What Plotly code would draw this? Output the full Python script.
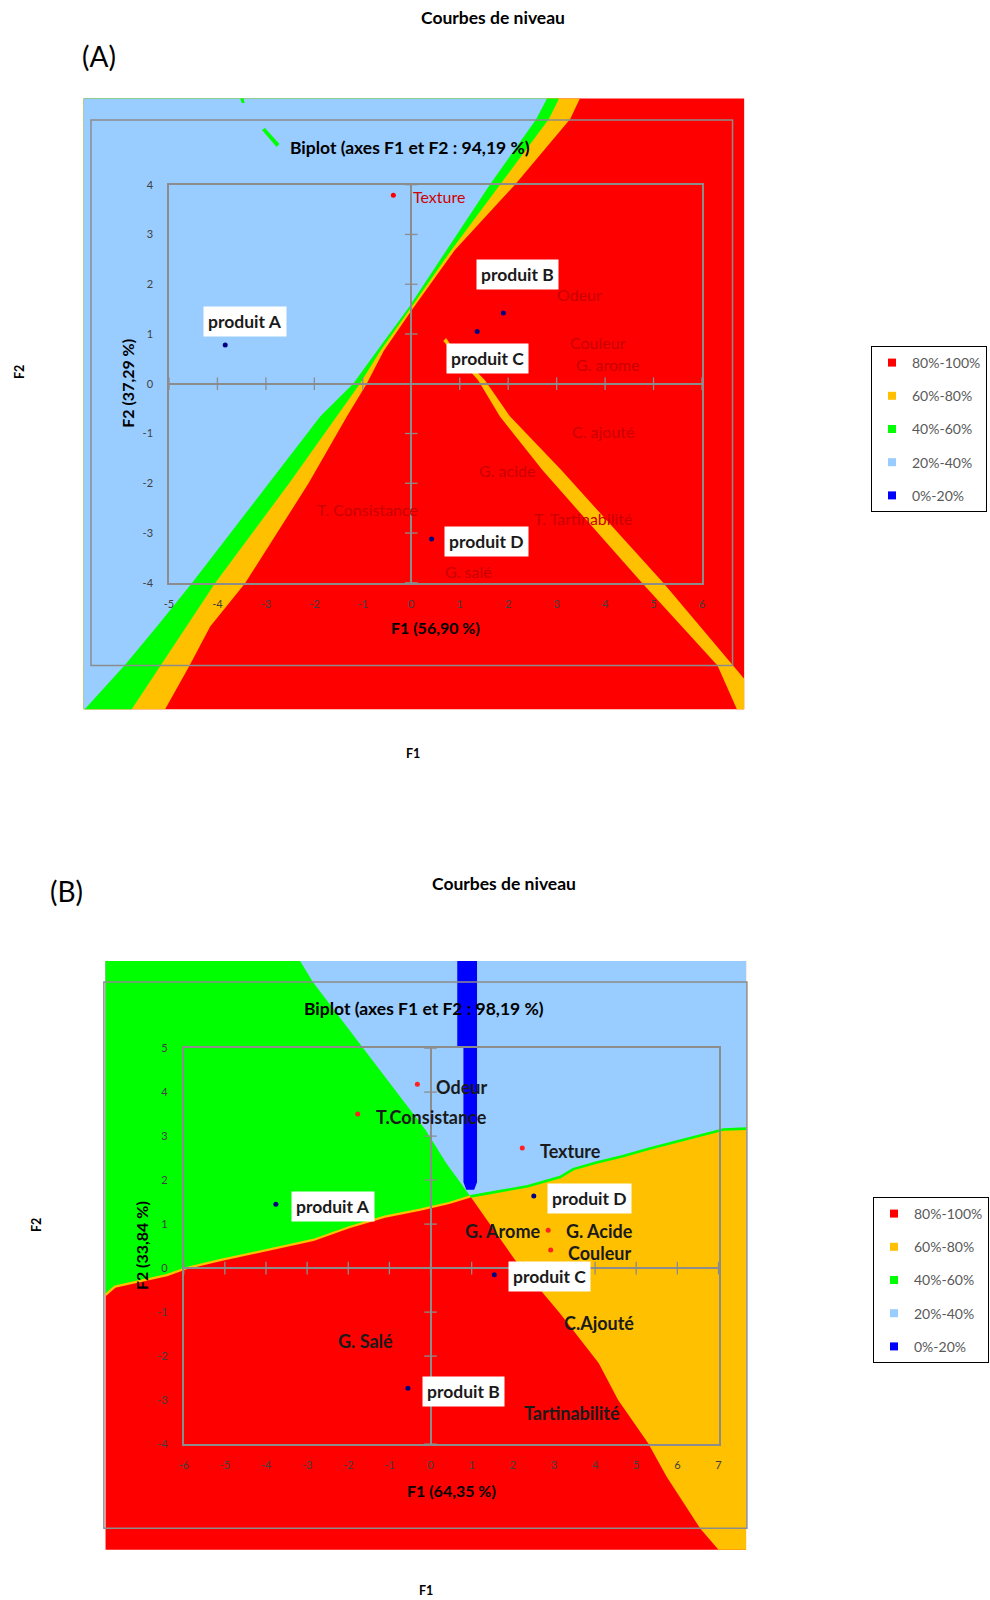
import plotly.graph_objects as go

# ---------------- colour classes (shared legend) ----------------
class_labels = ["80%-100%", "60%-80%", "40%-60%", "20%-40%", "0%-20%"]
class_colors = ["#FF0000", "#FFC000", "#00FF00", "#99CCFF", "#0000FF"]
RED, YELLOW, GREEN, LBLUE, BLUE = class_colors

# ---------------- (A) contour map ----------------
a_grid_x = [-6.76, 6.87]          # extent of the contour grid (F1)
a_grid_y = [-6.54, 5.73]          # extent of the contour grid (F2)
a_bound_y = [5.73, 5.32, 4.0, 2.69, 1.52, 0.66, 0.0, -0.66, -2.0, -4.01, -4.88, -5.65, -6.54]
a_bound_blue_green = [2.80, 2.58, 1.62, 0.73, -0.06, -0.71, -1.20, -1.88, -2.94, -4.53, -5.25, -5.91, -6.74]
a_bound_green_yellow = [3.05, 2.84, 1.83, 0.83, -0.01, -0.64, -1.06, -1.54, -2.52, -4.05, -4.64, -5.15, -5.77]
a_bound_yellow_red = [3.48, 3.28, 2.14, 0.90, 0.04, -0.57, -0.92, -1.33, -2.12, -3.43, -4.15, -4.57, -5.08]
# 60-80 % ridge running to the lower right corner
a_band_x = [0.72, 0.66, 1.38, 1.83, 2.71, 4.76, 6.32, 6.72, 6.87, 6.87, 6.64, 5.20, 3.10, 2.04, 1.52, 0.80]
a_band_y = [0.92, 0.86, 0.07, -0.66, -1.74, -4.00, -5.66, -6.54, -6.54, -5.93, -5.66, -4.00, -1.74, -0.66, 0.07, 0.80]
# small 40-60 % islands in the upper left
a_isle_x = [-3.08, -3.02, -2.72, -2.78]
a_isle_y = [5.10, 5.14, 4.82, 4.76]
a_fleck_x = [-3.53, -3.46, -3.44, -3.50]
a_fleck_y = [5.73, 5.73, 5.64, 5.64]
a_frame = [-6.61, 6.63, -5.66, 5.30]   # chart-area border (x0, x1, y0, y1)

a_xticks = [-5, -4, -3, -2, -1, 0, 1, 2, 3, 4, 5, 6]
a_yticks = [-4, -3, -2, -1, 0, 1, 2, 3, 4]

a_obs_names = ["produit A", "produit B", "produit C", "produit D"]
a_obs_x = [-3.84, 1.90, 1.36, 0.42]
a_obs_y = [0.78, 1.42, 1.05, -3.12]
a_obs_lab_x = [-3.44, 2.20, 1.58, 1.55]
a_obs_lab_y = [1.26, 2.19, 0.50, -3.17]

a_var_dot_x = [-0.37]
a_var_dot_y = [3.79]
a_var_names = ["Texture", "Odeur", "Couleur", "G. arome", "C. ajouté", "G. acide",
               "T. Consistance", "T. Tartinabilité", "G. salé"]
a_var_lab_x = [0.57, 3.48, 3.85, 4.07, 3.97, 1.97, -0.90, 3.55, 1.18]
a_var_lab_y = [3.76, 1.79, 0.82, 0.38, -0.95, -1.75, -2.52, -2.71, -3.77]

# ---------------- (B) contour map ----------------
b_grid_x = [-7.90, 7.67]
b_grid_y = [-6.40, 6.98]
# green / red border, left edge to the junction
b_gr_x = [-7.90, -7.67, -6.41, -5.93, -5.12, -4.10, -2.85, -1.98, -1.11, -0.25, 0.45, 0.97]
b_gr_y = [-0.61, -0.42, -0.16, 0.00, 0.18, 0.38, 0.64, 0.93, 1.17, 1.33, 1.48, 1.63]
# light blue / yellow border, junction to right edge
b_ly_x = [0.97, 1.49, 2.36, 3.15, 3.47, 4.04, 4.69, 5.33, 5.98, 6.63, 7.12, 7.67]
b_ly_y = [1.63, 1.72, 1.86, 2.07, 2.25, 2.40, 2.55, 2.72, 2.87, 3.02, 3.15, 3.17]
# green / light blue border, top edge to the junction
b_gb_x = [-3.17, -2.86, -1.65, -0.70, -0.12, 0.38, 0.79, 0.97]
b_gb_y = [6.98, 6.50, 5.00, 3.85, 3.14, 2.39, 1.86, 1.63]
# red / yellow border, junction to bottom edge
b_ry_x = [0.97, 1.53, 2.05, 3.14, 4.09, 4.56, 5.29, 5.74, 6.55, 7.00]
b_ry_y = [1.63, 0.87, 0.19, -1.02, -2.16, -3.00, -3.98, -4.74, -5.91, -6.40]
# 0-20 % trough
b_trough_x = [0.65, 1.13, 1.13, 1.06, 0.87, 0.80, 0.80, 0.65]
b_trough_y = [6.98, 6.98, 1.95, 1.78, 1.78, 1.95, 5.00, 5.00]
b_frame = [-7.94, 7.69, -5.91, 6.50]

b_xticks = [-6, -5, -4, -3, -2, -1, 0, 1, 2, 3, 4, 5, 6, 7]
b_yticks = [-4, -3, -2, -1, 0, 1, 2, 3, 4, 5]

b_obs_names = ["produit A", "produit B", "produit C", "produit D"]
b_obs_x = [-3.76, -0.55, 1.55, 2.51]
b_obs_y = [1.45, -2.73, -0.15, 1.64]
b_obs_lab_x = [-2.37, 0.79, 2.90, 3.86]
b_obs_lab_y = [1.39, -2.80, -0.20, 1.59]

b_var_dot_x = [-0.32, -1.77, 2.23, 2.86, 2.92]
b_var_dot_y = [4.18, 3.50, 2.73, 0.86, 0.41]
b_var_names = ["Odeur", "T.Consistance", "Texture", "G. Arome", "G. Acide", "Couleur",
               "C.Ajouté", "G. Salé", "Tartinabilité"]
b_var_lab_x = [0.75, 0.02, 3.40, 1.75, 4.11, 4.11, 4.10, -1.57, 3.43]
b_var_lab_y = [4.11, 3.43, 2.67, 0.85, 0.85, 0.34, -1.25, -1.65, -3.30]

# ---------------- page geometry (pixels) ----------------
W, H = 990, 1600
FONT = "Lato"
GRAY = "#8C8C8C"
TICKC = "#404040"


def dom_x(p0, p1):
    return [p0 / W, p1 / W]


def dom_y(p0, p1):
    return [1 - p1 / H, 1 - p0 / H]


def bg_range(inner_px, inner_rng, outer_px):
    """Extend the biplot scale so a larger box shares the same units."""
    (ix0, iy0, ix1, iy1) = inner_px
    (xr0, xr1, yr0, yr1) = inner_rng
    (ox0, oy0, ox1, oy1) = outer_px
    sx = (ix1 - ix0) / (xr1 - xr0)
    sy = (iy1 - iy0) / (yr1 - yr0)
    return ([xr0 - (ix0 - ox0) / sx, xr1 + (ox1 - ix1) / sx],
            [yr0 - (oy1 - iy1) / sy, yr1 + (iy0 - oy0) / sy])


panels = {
    "A": dict(inner_px=(169, 184.7, 702, 582.8), rng=(-5, 6, -4, 4), outer_px=(78, 93, 752, 717)),
    "B": dict(inner_px=(183.7, 1048.1, 718.5, 1444.1), rng=(-6, 7, -4, 5), outer_px=(98, 952, 754, 1557)),
}

fig = go.Figure()


def poly(x, y, color, xa, ya):
    fig.add_trace(go.Scatter(x=x, y=y, mode="lines", fill="toself", fillcolor=color,
                             line=dict(width=0, color=color), hoverinfo="skip",
                             showlegend=False, xaxis=xa, yaxis=ya))


def edge(x, y, color, width, xa, ya):
    fig.add_trace(go.Scatter(x=x, y=y, mode="lines", line=dict(width=width, color=color),
                             hoverinfo="skip", showlegend=False, xaxis=xa, yaxis=ya))


# ----- (A) regions on x / y -----
X0, X1 = a_grid_x
Y0, Y1 = a_grid_y
poly([X0, X1, X1, X0], [Y0, Y0, Y1, Y1], RED, "x", "y")
poly([X0] + a_bound_yellow_red + [X0], [Y1] + a_bound_y + [Y0], YELLOW, "x", "y")
poly([X0] + a_bound_green_yellow + [X0], [Y1] + a_bound_y + [Y0], GREEN, "x", "y")
poly([X0] + a_bound_blue_green + [X0], [Y1] + a_bound_y + [Y0], LBLUE, "x", "y")
poly(a_band_x, a_band_y, YELLOW, "x", "y")
poly(a_isle_x, a_isle_y, GREEN, "x", "y")
poly(a_fleck_x, a_fleck_y, GREEN, "x", "y")

# ----- (B) regions on x3 / y3 -----
X0, X1 = b_grid_x
Y0, Y1 = b_grid_y
poly([X0, X1, X1, X0], [Y0, Y0, Y1, Y1], RED, "x3", "y3")
poly(b_ry_x + [X1, X1, b_ry_x[0]], b_ry_y + [Y0, Y1, Y1], YELLOW, "x3", "y3")
poly(b_gr_x + b_ly_x[1:] + [X1, X0], b_gr_y + b_ly_y[1:] + [Y1, Y1], LBLUE, "x3", "y3")
poly([X0] + b_gb_x + b_gr_x[::-1], [Y1] + b_gb_y + b_gr_y[::-1], GREEN, "x3", "y3")
poly(b_trough_x, b_trough_y, BLUE, "x3", "y3")
edge(b_gr_x, b_gr_y, YELLOW, 2.2, "x3", "y3")
edge(b_ly_x, b_ly_y, GREEN, 2.6, "x3", "y3")


# ----- biplot overlays -----
def biplot(xa, ya, xticks, yticks, obs_x, obs_y, dot_x, dot_y, dot_color):
    fig.add_trace(go.Scatter(x=xticks, y=[0] * len(xticks), mode="markers",
                             marker=dict(symbol="line-ns", size=9, line=dict(width=1.3, color=GRAY)),
                             hoverinfo="skip", showlegend=False, xaxis=xa, yaxis=ya, cliponaxis=False))
    fig.add_trace(go.Scatter(x=[0] * len(yticks), y=yticks, mode="markers",
                             marker=dict(symbol="line-ew", size=9, line=dict(width=1.3, color=GRAY)),
                             hoverinfo="skip", showlegend=False, xaxis=xa, yaxis=ya, cliponaxis=False))
    fig.add_trace(go.Scatter(x=obs_x, y=obs_y, mode="markers",
                             marker=dict(size=5, color="#000080"),
                             showlegend=False, xaxis=xa, yaxis=ya))
    fig.add_trace(go.Scatter(x=dot_x, y=dot_y, mode="markers",
                             marker=dict(size=5, color=dot_color),
                             showlegend=False, xaxis=xa, yaxis=ya))


biplot("x2", "y2", a_xticks, a_yticks, a_obs_x, a_obs_y, a_var_dot_x, a_var_dot_y, "#FF0000")
biplot("x4", "y4", b_xticks, b_yticks, b_obs_x, b_obs_y, b_var_dot_x, b_var_dot_y, "#FF2020")

# ----- legends -----
for lg in ("legend", "legend2"):
    for name, col in zip(class_labels, class_colors):
        fig.add_trace(go.Scatter(x=[None], y=[None], mode="markers", name=name,
                                 marker=dict(symbol="square", size=8, color=col),
                                 legend=lg, legendgroup=lg + name, showlegend=True))


# ----- axes -----
def axis_common(**kw):
    d = dict(showgrid=False, zeroline=False, showticklabels=False, showline=False,
             fixedrange=True, ticks="", automargin=False)
    d.update(kw)
    return d


def tick_text(vals):
    return [str(v) for v in vals]


layout_axes = {}
for key, (bx, by, ix, iy) in {"A": ("xaxis", "yaxis", "xaxis2", "yaxis2"),
                              "B": ("xaxis3", "yaxis3", "xaxis4", "yaxis4")}.items():
    p = panels[key]
    ipx, rng, opx = p["inner_px"], p["rng"], p["outer_px"]
    xr, yr = bg_range(ipx, rng, opx)
    bxa = bx.replace("axis", "")
    bya = by.replace("axis", "")
    layout_axes[bx] = axis_common(domain=dom_x(opx[0], opx[2]), range=xr, anchor=bya)
    layout_axes[by] = axis_common(domain=dom_y(opx[1], opx[3]), range=yr, anchor=bxa)
    ixa = ix.replace("axis", "")
    iya = iy.replace("axis", "")
    xticks = a_xticks if key == "A" else b_xticks
    yticks = a_yticks if key == "A" else b_yticks
    layout_axes[ix] = dict(domain=dom_x(ipx[0], ipx[2]), range=[rng[0], rng[1]], anchor=iya,
                           showgrid=False, zeroline=True, zerolinecolor=GRAY, zerolinewidth=1.5,
                           showline=True, mirror=True, linecolor=GRAY, linewidth=1.5,
                           tickvals=xticks, ticktext=tick_text(xticks), ticks="",
                           ticklabelstandoff=10, automargin=False,
                           tickfont=dict(family=FONT, size=11, color=TICKC), fixedrange=True)
    layout_axes[iy] = dict(domain=dom_y(ipx[1], ipx[3]), range=[rng[2], rng[3]], anchor=ixa,
                           showgrid=False, zeroline=True, zerolinecolor=GRAY, zerolinewidth=1.5,
                           showline=True, mirror=True, linecolor=GRAY, linewidth=1.5,
                           tickvals=yticks, ticktext=tick_text(yticks), ticks="",
                           ticklabelstandoff=12, automargin=False,
                           tickfont=dict(family=FONT, size=11, color=TICKC), fixedrange=True)

# ----- chart-area borders -----
shapes = []
for (xr_, yr_, fr) in (("x", "y", a_frame), ("x3", "y3", b_frame)):
    shapes.append(dict(type="rect", xref=xr_, yref=yr_, x0=fr[0], x1=fr[1], y0=fr[2], y1=fr[3],
                       line=dict(color=GRAY, width=1.5), fillcolor="rgba(0,0,0,0)", layer="above"))

# ----- text -----
ann = []


def text(t, x, y, xref, yref, size, bold=False, color="#000000", angle=0, **kw):
    ann.append(dict(text=("<b>%s</b>" % t) if bold else t, x=x, y=y, xref=xref, yref=yref,
                    xanchor="center", yanchor="middle",
                    showarrow=False, textangle=angle,
                    font=dict(family=FONT, size=size, color=color), **kw))


def px_x(p):
    return p / W


def px_y(p):
    return 1 - p / H


# headings and axis names
text("Courbes de niveau", px_x(493), px_y(18), "paper", "paper", 17.5, bold=True)
text("(A)", px_x(99), px_y(56), "paper", "paper", 28)
text("F2", px_x(19), px_y(372), "paper", "paper", 12.5, bold=True, angle=-90)
text("F1", px_x(413), px_y(753), "paper", "paper", 12.5, bold=True)
text("Biplot (axes F1 et F2 : 94,19 %)", px_x(410), px_y(147), "paper", "paper", 17.5, bold=True)
text("F2 (37,29 %)", px_x(128), 0.5, "paper", "y2 domain", 16, bold=True, angle=-90)
text("F1 (56,90 %)", 0.5, px_y(627), "x2 domain", "paper", 16, bold=True)

text("Courbes de niveau", px_x(504), px_y(883), "paper", "paper", 17.5, bold=True)
text("(B)", px_x(66), px_y(891), "paper", "paper", 28)
text("F2", px_x(36), px_y(1225), "paper", "paper", 12.5, bold=True, angle=-90)
text("F1", px_x(426), px_y(1590), "paper", "paper", 12.5, bold=True)
text("Biplot (axes F1 et F2 : 98,19 %)", px_x(424), px_y(1008), "paper", "paper", 17.5, bold=True)
text("F2 (33,84 %)", px_x(141), 0.5, "paper", "y4 domain", 16, bold=True, angle=-90)
text("F1 (64,35 %)", 0.5, px_y(1490), "x4 domain", "paper", 16, bold=True)

# (A) labels
for i, name in enumerate(a_var_names):
    col = "#D00000" if i == 0 else "#C80000"
    text(name, a_var_lab_x[i], a_var_lab_y[i], "x2", "y2", 16, color=col)
for name, lx, ly in zip(a_obs_names, a_obs_lab_x, a_obs_lab_y):
    text(name, lx, ly, "x2", "y2", 17.5, bold=True, color="#1A1A1A", bgcolor="#FFFFFF", borderpad=4)

# (B) labels
for name, lx, ly in zip(b_var_names, b_var_lab_x, b_var_lab_y):
    text(name, lx, ly, "x4", "y4", 18, bold=True, color="#1A1A1A")
for name, lx, ly in zip(b_obs_names, b_obs_lab_x, b_obs_lab_y):
    text(name, lx, ly, "x4", "y4", 17.5, bold=True, color="#1A1A1A", bgcolor="#FFFFFF", borderpad=4)

legend_style = dict(bgcolor="#FFFFFF", bordercolor="#000000", borderwidth=1,
                    font=dict(family=FONT, size=14, color="#595959"),
                    xanchor="left", yanchor="top", tracegroupgap=12, itemclick=False)

fig.update_layout(
    template="none",
    width=W, height=H, margin=dict(l=0, r=0, t=0, b=0, autoexpand=False),
    paper_bgcolor="#FFFFFF", plot_bgcolor="rgba(0,0,0,0)",
    showlegend=True,
    legend=dict(x=px_x(871), y=px_y(346), **legend_style),
    legend2=dict(x=px_x(873), y=px_y(1197), **legend_style),
    shapes=shapes, annotations=ann,
    **layout_axes,
)

fig.write_html("out.html")
